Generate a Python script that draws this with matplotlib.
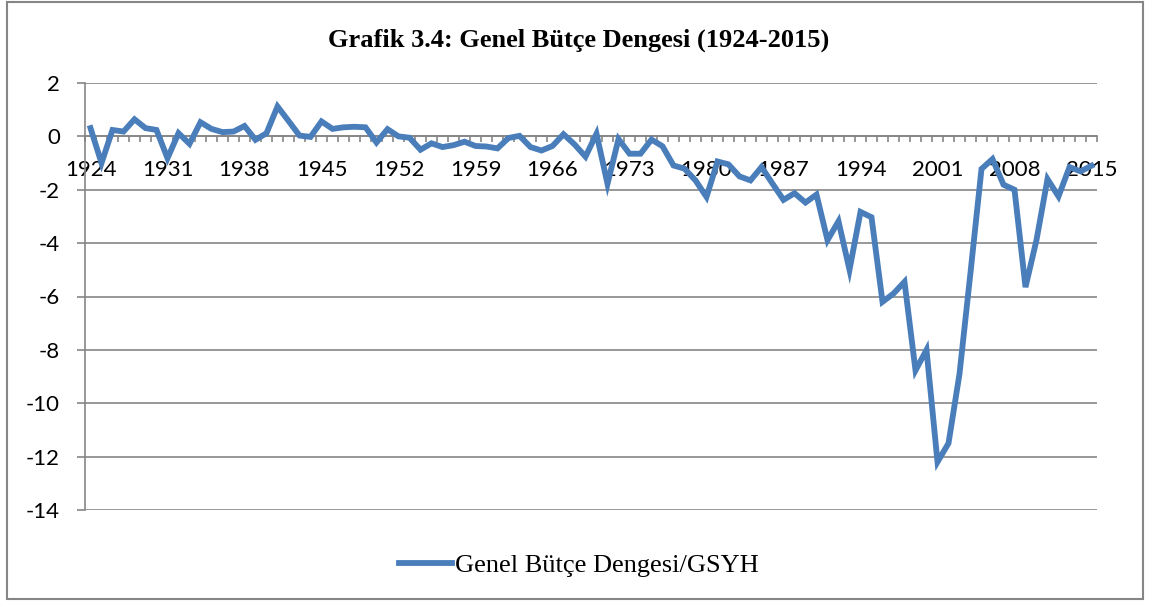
import matplotlib
matplotlib.use("Agg")
import matplotlib.pyplot as plt
from matplotlib.patches import Rectangle
import numpy as np


# budget balance / GDP (percent)
years = list(range(1924, 2016))
balance = [
    0.31, -1.00, 0.24, 0.18, 0.64, 0.31, 0.24, -0.82, 0.12, -0.28,
    0.53, 0.28, 0.16, 0.18, 0.39, -0.13, 0.12, 1.12, 0.58, 0.03,
    -0.02, 0.56, 0.28, 0.34, 0.36, 0.34, -0.23, 0.27, 0.00, -0.05,
    -0.50, -0.26, -0.40, -0.33, -0.20, -0.36, -0.38, -0.45, -0.06, 0.02,
    -0.40, -0.53, -0.36, 0.08, -0.30, -0.76, 0.10, -1.78, -0.10, -0.65,
    -0.65, -0.12, -0.37, -1.09, -1.21, -1.65, -2.27, -0.94, -1.05, -1.50,
    -1.65, -1.15, -1.77, -2.38, -2.13, -2.48, -2.18, -3.89, -3.18, -5.00,
    -2.83, -3.03, -6.20, -5.89, -5.45, -8.77, -8.00, -12.20, -11.50, -8.90,
    -5.10, -1.22, -0.85, -1.81, -2.00, -5.65, -3.88, -1.60, -2.25, -1.15,
    -1.31, -1.10,
]
y_ticks = [2, 0, -2, -4, -6, -8, -10, -12, -14]
label_step = 7

title = "Grafik 3.4: Genel Bütçe Dengesi (1924-2015)"
series_name = "Genel Bütçe Dengesi/GSYH"

line_color = "#4A7EBB"
grid_color = "#868686"
sans = ["Lato", "DejaVu Sans"]
serif = ["Liberation Serif", "DejaVu Serif"]


def main():
    fig = plt.figure(figsize=(11.5, 6.03), dpi=100)
    fig.patches.append(Rectangle((0.006, 0.006), 0.988, 0.99, transform=fig.transFigure,
                                 fill=False, edgecolor=grid_color, lw=1.5))

    ax = fig.add_axes([85 / 1150, 1 - 510 / 603, 1012 / 1150, 427 / 603])
    x = np.arange(len(years))
    ax.plot(x, balance, color=line_color, lw=4.2, solid_joinstyle="miter",
            label=series_name, zorder=3)

    ax.set_xlim(-0.5, len(years) - 0.5)
    ax.set_ylim(-14, 2)
    ax.set_yticks(y_ticks)
    ax.set_yticklabels([str(v) for v in y_ticks], family=sans, fontsize=16)
    ax.grid(axis="y", color=grid_color, lw=1.2, zorder=1)

    # category axis crosses at zero
    for side in ["top", "right"]:
        ax.spines[side].set_visible(False)
    ax.spines["bottom"].set_position(("data", 0))
    ax.spines["bottom"].set_color(grid_color)
    ax.spines["bottom"].set_linewidth(1.2)
    ax.spines["left"].set_color(grid_color)
    ax.spines["left"].set_linewidth(1.2)

    ax.set_xticks(x[::label_step])
    ax.set_xticklabels([str(years[i]) for i in x[::label_step]], family=sans, fontsize=16)
    ax.set_xticks(np.arange(len(years) + 1) - 0.5, minor=True)
    ax.tick_params(axis="x", which="major", length=0, pad=17)
    ax.tick_params(axis="x", which="minor", length=4, width=1.2, color=grid_color, direction="out")
    ax.tick_params(axis="y", length=6, width=1.2, color=grid_color, pad=12)

    fig.text(0.503, 1 - 40 / 603, title, ha="center", va="center",
             family=serif, fontsize=19, fontweight="bold")

    fig.legend(loc="center", bbox_to_anchor=(579 / 1150, 1 - 565 / 603), frameon=False,
               prop={"family": serif, "size": 19}, handlelength=2.0, handletextpad=0.1)

    plt.savefig("out.png", dpi=100)


if __name__ == "__main__":
    main()
